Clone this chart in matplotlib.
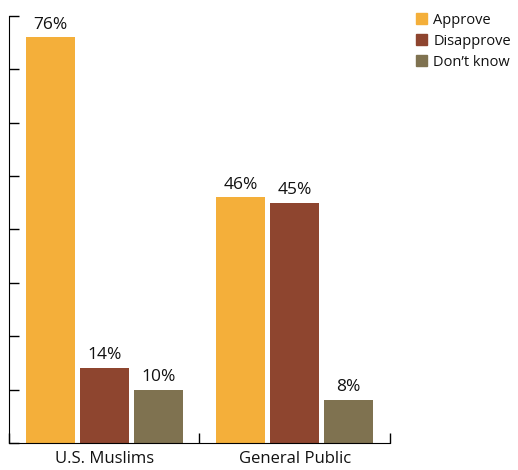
import numpy as np
import matplotlib.pyplot as plt
from matplotlib.patches import Patch

plt.rcParams['font.family'] = ['Open Sans', 'DejaVu Sans']

groups = ['U.S. Muslims', 'General Public']
series = ['Approve', 'Disapprove', "Don\u2019t know"]
approve = [76, 46]
disapprove = [14, 45]
dont_know = [10, 8]
colors = ['#F4AF3A', '#8E452F', '#7F7250']

fig = plt.figure(figsize=(5.18, 4.70), dpi=100)
ax = fig.add_axes([9/518, 27/470, 381/518, 427/470])

x = np.arange(len(groups))
w = 0.257
step = 0.283
for i, vals in enumerate([approve, disapprove, dont_know]):
    pos = x + (i - 1) * step
    bars = ax.bar(pos, vals, w, color=colors[i])
    for p, v in zip(pos, vals):
        ax.text(p, v + 0.9, f'{v}%', ha='center', va='bottom', fontsize=12.5, color='#111111')

ax.set_xlim(-0.5, 1.5)
ax.set_ylim(0, 80)
ax.spines['top'].set_visible(False)
ax.spines['right'].set_visible(False)
ax.set_yticks(np.arange(0, 81, 10))
ax.set_yticklabels([])
ax.set_xticks([-0.5, 0.5, 1.5])
ax.set_xticklabels([])
ax.set_xticks(x, minor=True)
ax.set_xticklabels(groups, minor=True, fontsize=12, color='#111111')
ax.tick_params(axis='x', which='minor', length=0, pad=6)
ax.tick_params(axis='both', which='major', direction='in', length=7, width=1)

handles = [Patch(color=c) for c in colors]
fig.legend(handles, series, loc='upper left', bbox_to_anchor=(410/518, 1 - 7/470),
           frameon=False, fontsize=10.5, handlelength=0.75, handleheight=0.75,
           handletextpad=0.45, labelspacing=0.4, borderaxespad=0, labelcolor='#111111')

fig.savefig('out.png', dpi=100)
